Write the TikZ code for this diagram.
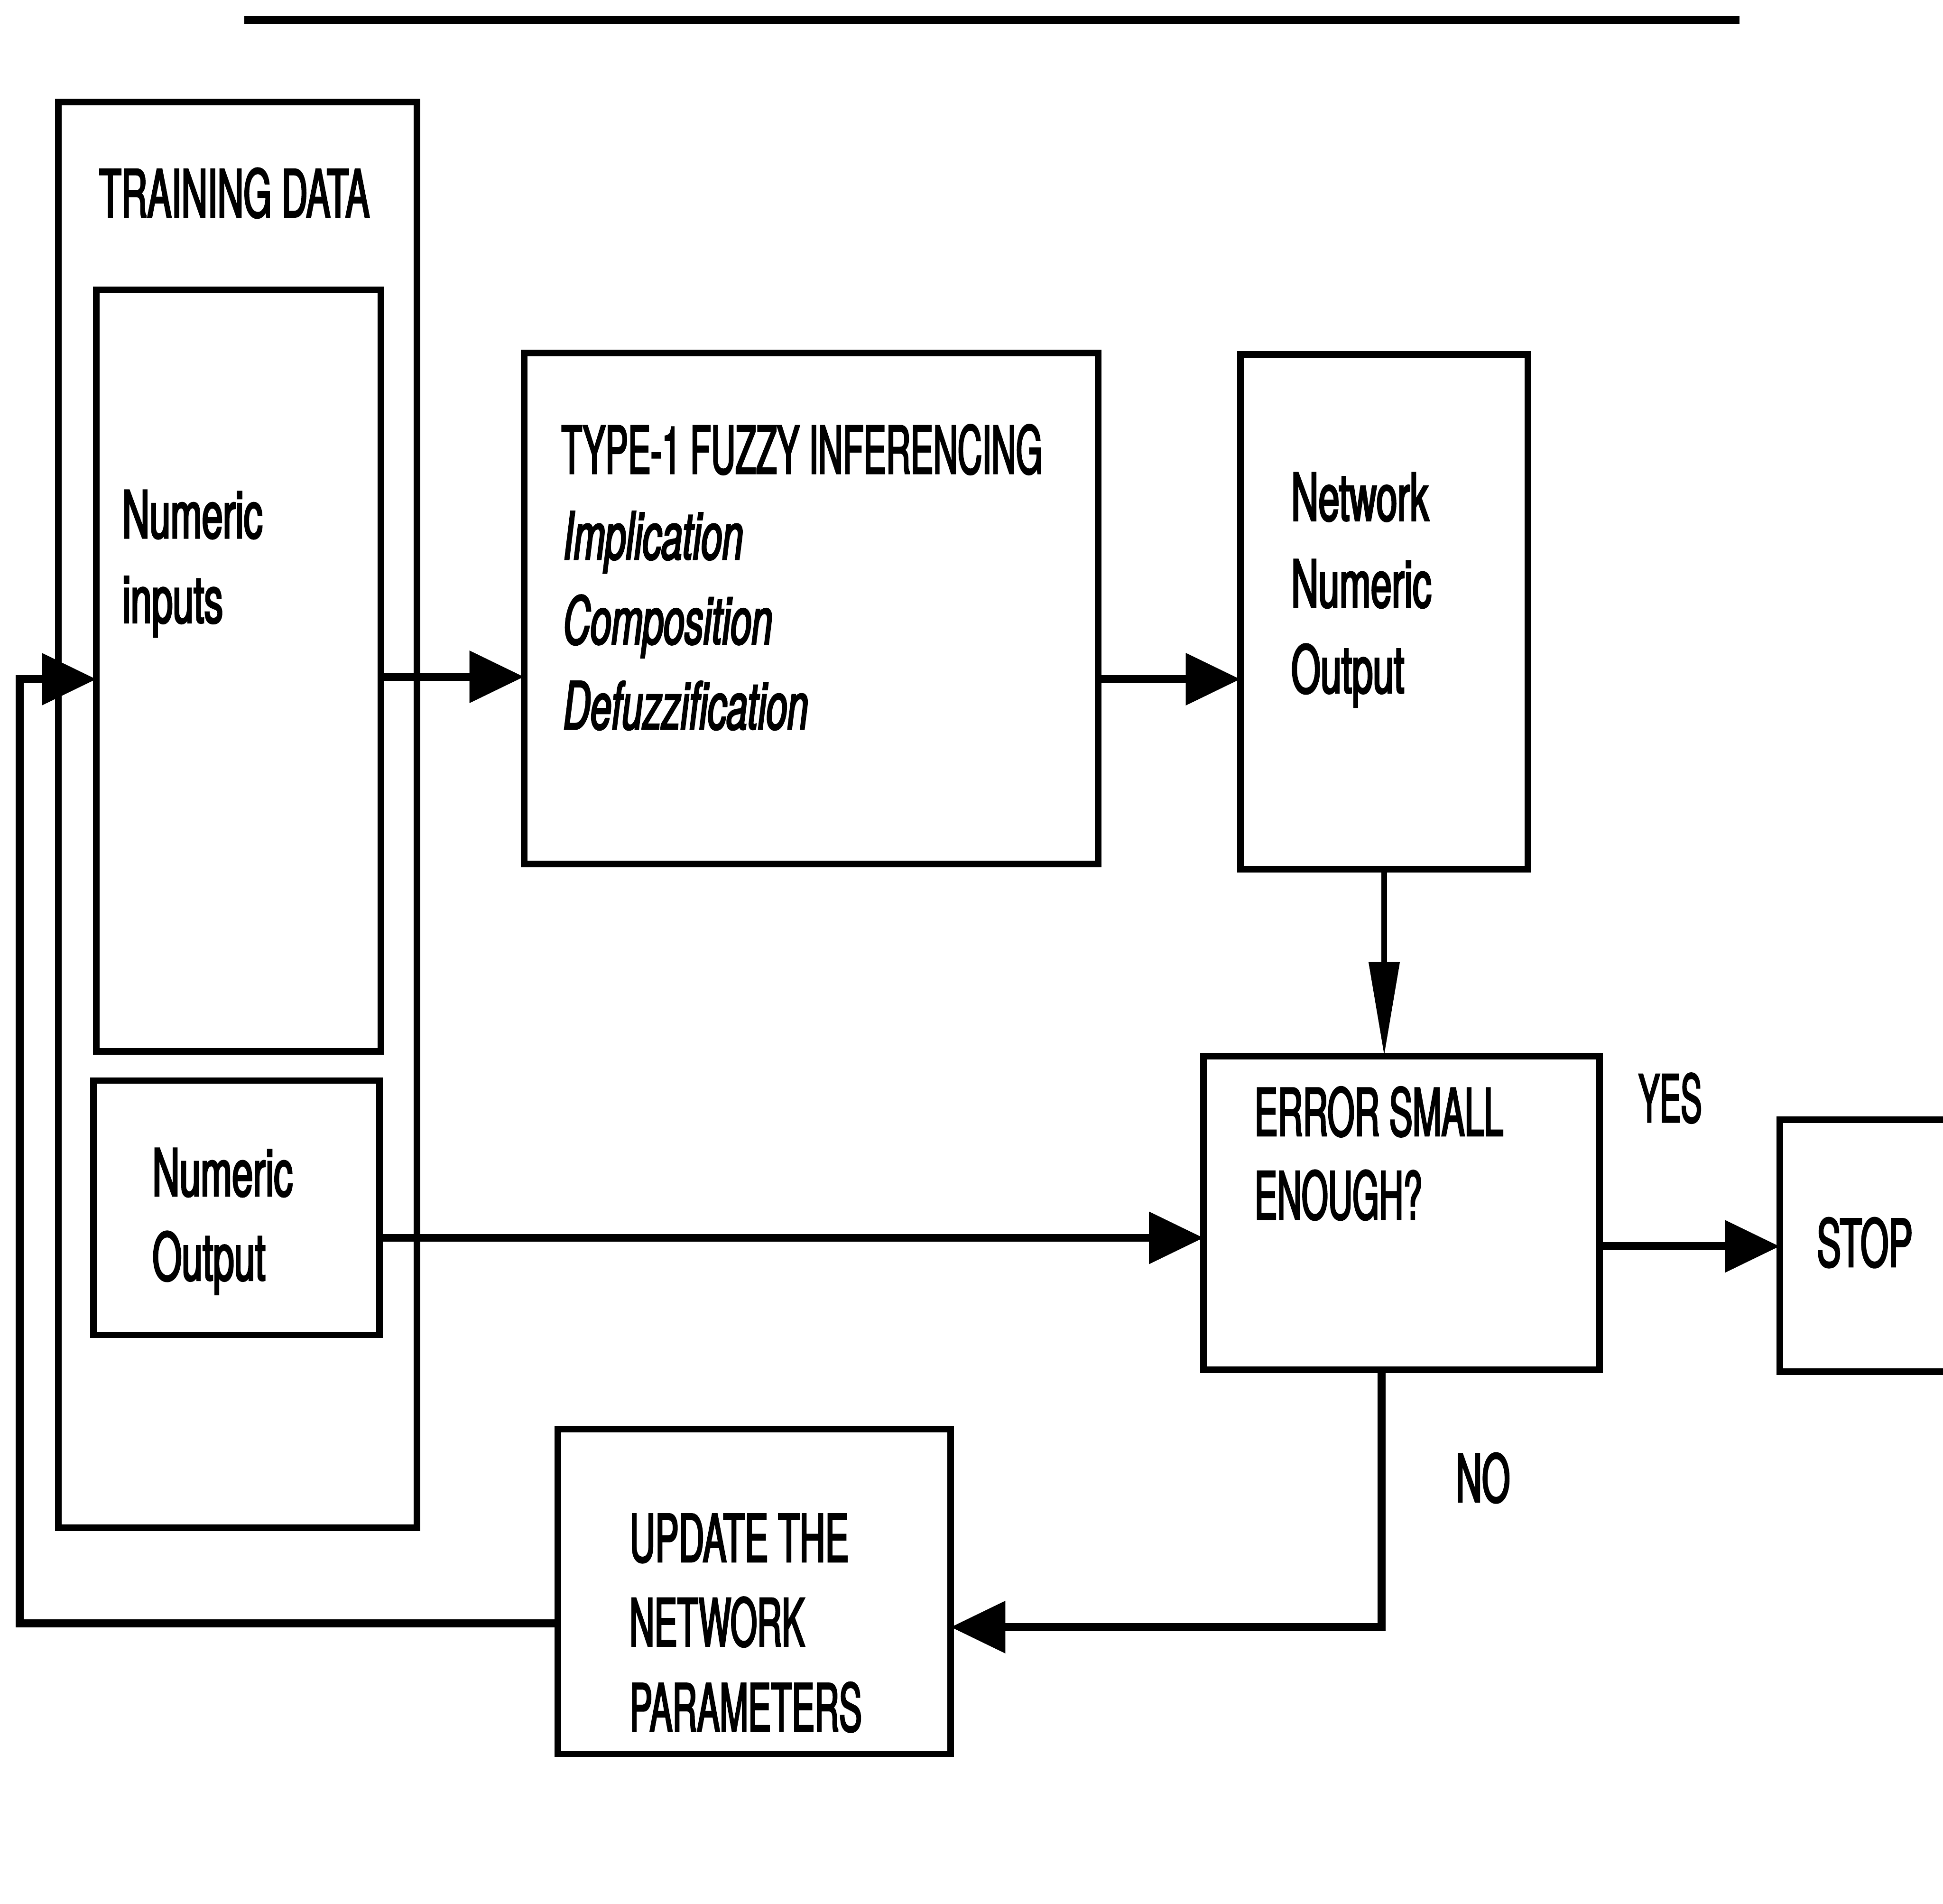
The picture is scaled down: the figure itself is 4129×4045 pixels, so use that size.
\documentclass[tikz,border=0pt]{standalone}
\usepackage{fontspec}
\usepackage{graphicx}
\setmainfont{TeX Gyre Heros}[FakeStretch=0.575, FakeBold=2.5]
\usetikzlibrary{arrows.meta}
\newcommand\bigfont{\fontsize{39.6pt}{51.5pt}\selectfont}
\newcommand\sqz[2]{\scalebox{#1}[1]{#2}}
\tikzset{
  box/.style={draw, line width=0.14cm, inner sep=0pt, outer sep=0pt},
  txt/.style={inner sep=0pt, outer sep=0pt, anchor=base west, font=\bigfont},
  itxt/.style={txt, font=\bigfont\itshape},
  conn/.style={line width=0.17cm, line join=miter},
  harr/.style={conn, -{Triangle[length=1.16cm,width=1.07cm]}},
  varr/.style={line width=0.13cm, -{Triangle[length=2.0cm,width=0.63cm]}},
}
\begin{document}
\begin{tikzpicture}[x=0.01cm, y=-0.01cm]
\useasboundingbox (0,0) rectangle (4129,4045);
\clip (0,0) rectangle (4129,4045);
% top rule
\coordinate (r1) at (519,43);
\coordinate (r2) at (3697,43);
\draw[line width=0.17cm] (r1) -- (r2);
% boxes
\node[box, minimum width=7.62cm, minimum height=30.27cm] (train) at (505,1731.5) {};
\node[box, minimum width=6.04cm, minimum height=16.17cm] (inputs) at (507,1424.5) {};
\node[box, minimum width=6.07cm, minimum height=5.40cm] (numout) at (502.5,2566) {};
\node[box, minimum width=12.19cm, minimum height=10.85cm] (fuzzy) at (1723.5,1292.5) {};
\node[box, minimum width=6.11cm, minimum height=10.93cm] (netout) at (2941.5,1299.5) {};
\node[box, minimum width=8.41cm, minimum height=6.66cm] (error) at (2978.5,2577) {};
\node[box, minimum width=4.18cm, minimum height=5.35cm] (stop) at (3991,2646.5) {};
\node[box, minimum width=8.34cm, minimum height=6.90cm] (update) at (1603,3381) {};
% texts
\node[txt] (ttrain) at (211,461) {\sqz{0.957}{TRAINING DATA}};
\node[txt] (tin1) at (260,1143) {Numeric};
\node[txt] (tin2) at (260,1323) {inputs};
\node[txt] (tno1) at (324,2541) {Numeric};
\node[txt] (tno2) at (324,2720) {Output};
\node[txt] (tfz1) at (1193,1006) {\sqz{0.90}{TYPE-1 FUZZY INFERENCING}};
\node[itxt] (tfz2) at (1197,1188) {Implication};
\node[itxt] (tfz3) at (1197,1368) {Composition};
\node[itxt] (tfz4) at (1197,1549) {Defuzzification};
\node[txt] (tnet1) at (2744,1106) {Network};
\node[txt] (tnet2) at (2744,1290) {Numeric};
\node[txt] (tnet3) at (2744,1472) {Output};
\node[txt] (terr1) at (2666,2413) {\sqz{0.923}{ERROR SMALL}};
\node[txt] (terr2) at (2666,2590) {\sqz{0.90}{ENOUGH?}};
\node[txt] (tyes) at (3482,2384) {\sqz{0.84}{YES}};
\node[txt] (tstop) at (3861,2691) {\sqz{0.957}{STOP}};
\node[txt] (tno) at (3094,3191) {\sqz{0.957}{NO}};
\node[txt] (tup1) at (1338,3318) {\sqz{0.938}{UPDATE THE}};
\node[txt] (tup2) at (1338,3497) {\sqz{0.91}{NETWORK}};
\node[txt] (tup3) at (1338,3678) {\sqz{0.905}{PARAMETERS}};
% connectors
\coordinate (ya) at (0,1438);
\coordinate (yb) at (0,1443);
\coordinate (yc) at (0,2630);
\coordinate (yd) at (0,2648);
\coordinate (cn) at (2936,3457);
\coordinate (l1) at (42,3449);
\coordinate (l2) at (42,1443);
\draw[harr] (inputs.east |- ya) -- (fuzzy.west |- ya);
\draw[harr] (fuzzy.east |- yb) -- (netout.west |- yb);
\draw[varr] (netout.south) -- (error.north -| netout.south);
\draw[harr] (numout.east |- yc) -- (error.west |- yc);
\draw[harr] (error.east |- yd) -- (stop.west |- yd);
\draw[harr] (error.south -| cn) -- (cn) -- (update.east |- cn);
\draw[harr] (update.west |- l1) -- (l1) -- (l2) -- (inputs.west |- l2);
\end{tikzpicture}
\end{document}
